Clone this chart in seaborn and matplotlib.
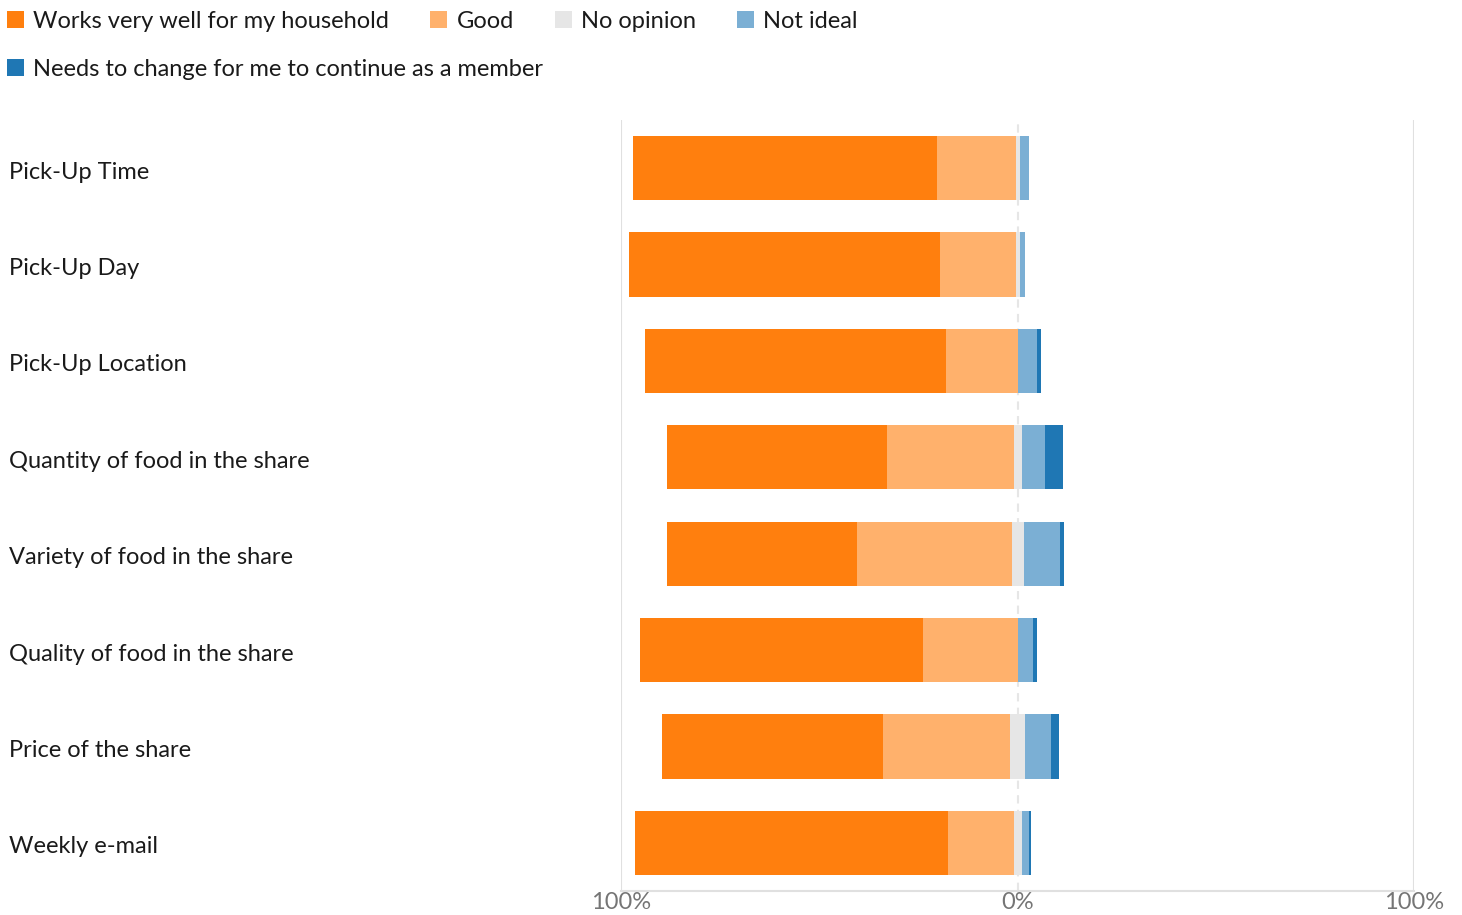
import pandas as pd
import seaborn as sns
import matplotlib.pyplot as plt
import matplotlib.transforms as mtransforms
from matplotlib.patches import Patch

# ---- Data ----
questions = ['Pick-Up Time', 'Pick-Up Day', 'Pick-Up Location', 'Quantity of food in the share',
             'Variety of food in the share', 'Quality of food in the share', 'Price of the share',
             'Weekly e-mail']
works_well = [76.7, 78.3, 75.8, 55.6, 48.0, 71.3, 55.9, 78.8]
good = [19.7, 19.1, 18.1, 31.8, 38.9, 23.7, 31.8, 16.6]
no_opinion = [1.0, 1.0, 0.0, 2.0, 3.0, 0.0, 4.0, 2.0]
not_ideal = [2.5, 1.5, 5.0, 6.0, 9.1, 4.0, 6.5, 2.0]
needs_change = [0.0, 0.0, 1.0, 4.5, 1.0, 1.0, 2.0, 0.5]

categories = ['Works very well for my household', 'Good', 'No opinion', 'Not ideal',
              'Needs to change for me to continue as a member']
colors = ['#ff7f0e', '#ffb16c', '#e6e6e6', '#7bafd4', '#1f77b4']

df = pd.DataFrame({'Question': questions, 'works': works_well, 'good': good,
                   'none': no_opinion, 'notideal': not_ideal, 'needs': needs_change})
half = df['none'] / 2
# bar ends measured from the 0 line (negatives go left)
df['end_works'] = -(df['works'] + df['good'] + half)
df['end_good'] = -(df['good'] + half)
df['end_none_l'] = -half
df['end_none_r'] = half
df['end_notideal'] = half + df['notideal']
df['end_needs'] = half + df['notideal'] + df['needs']

# ---- Plot ----
sns.set_style('white')
plt.rcParams['font.family'] = ['Lato', 'DejaVu Sans']

fig = plt.figure(figsize=(14.62, 9.15), dpi=100)
ax = fig.add_axes([0.4245, 0.0262, 0.5430, 0.8427])

# longest first on each side, then overlay the shorter ones
layers = [('end_works', colors[0]), ('end_good', colors[1]),
          ('end_needs', colors[4]), ('end_notideal', colors[3]),
          ('end_none_l', colors[2]), ('end_none_r', colors[2])]
for col, c in layers:
    sns.barplot(data=df, x=col, y='Question', order=questions, orient='h', color=c,
                width=0.667, linewidth=0, saturation=1, errorbar=None, ax=ax, zorder=2)

ax.set_xlim(-100, 100)
ax.set_ylim(7.5, -0.5)
ax.axvline(-100, color='#e0e0e0', lw=1.5, zorder=0)
ax.axvline(100, color='#e0e0e0', lw=1.5, zorder=0)
ax.axvline(0, color='#e6e6e6', lw=1.5, dashes=(4, 3), zorder=0)
for s in ['top', 'left', 'right']:
    ax.spines[s].set_visible(False)
ax.spines['bottom'].set_color('#e0e0e0')
ax.spines['bottom'].set_linewidth(1.5)

ax.set_xticks([-100, 0, 100])
ax.set_xticklabels(['100%', '0%', '100%'], fontsize=17, color='#757575')
ax.tick_params(axis='x', length=0, pad=0.5)
ax.tick_params(axis='y', length=0, pad=440.6, labelsize=17, labelcolor='#1a1a1a')
shift = mtransforms.ScaledTranslation(0, -2 / 100, fig.dpi_scale_trans)
for lbl in ax.get_yticklabels():
    lbl.set_horizontalalignment('left')
    lbl.set_verticalalignment('center_baseline')
    lbl.set_transform(lbl.get_transform() + shift)
ax.set_xlabel('')
ax.set_ylabel('')

# ---- Legend (two rows, flowing like the original) ----
handles = [Patch(facecolor=c, edgecolor='none') for c in colors]
common = dict(frameon=False, fontsize=17, handlelength=0.7, handleheight=0.7,
              handletextpad=0.4, borderaxespad=0, borderpad=0, labelcolor='#1a1a1a')
leg1 = fig.legend(handles[:4], categories[:4], ncol=4, loc='center left',
                  bbox_to_anchor=(0.005, 1 - 21 / 915), columnspacing=1.75, **common)
leg2 = fig.legend(handles[4:], categories[4:], ncol=1, loc='center left',
                  bbox_to_anchor=(0.005, 1 - 69 / 915), **common)

fig.savefig('out.png', dpi=100)
